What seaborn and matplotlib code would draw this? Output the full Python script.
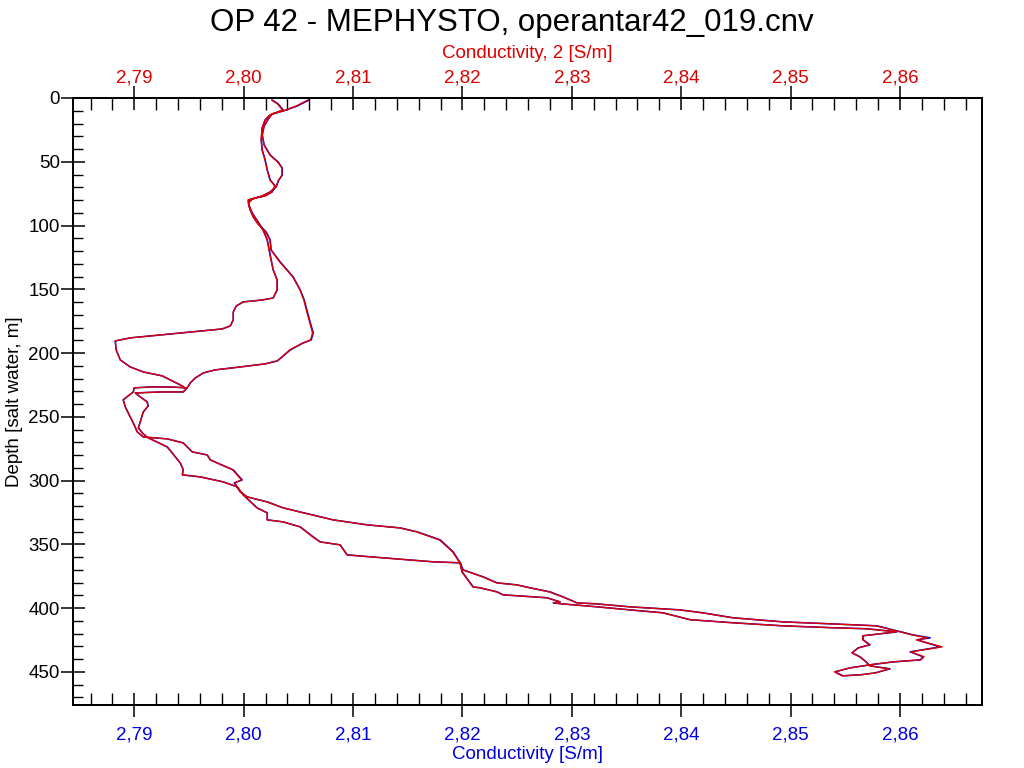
import matplotlib
matplotlib.use("Agg")
import matplotlib.pyplot as plt
from matplotlib.ticker import MultipleLocator, FuncFormatter
import numpy as np
import pandas as pd
import seaborn as sns

# CTD profile, down cast then up cast (depth in m, conductivity in S/m)
depth = [1.5, 6.3, 10.2, 12.5, 16.5, 22.0, 29.0, 36.8, 44.7, 50.2,
         54.9, 60.4, 65.1, 69.8, 73.7, 76.8, 79.2, 82.3, 87.8, 93.3,
         98.8, 105.0, 111.3, 119.2, 128.6, 140.3, 150.5, 158.4, 170.1, 184.2,
         189.7, 192.1, 197.6, 203.0, 206.2, 208.5, 210.9, 213.2, 215.6, 219.5,
         223.4, 227.3, 226.6, 226.6, 227.3, 230.5, 233.6, 236.7, 242.2, 250.1,
         254.8, 261.8, 265.8, 267.3, 270.5, 277.5, 279.9, 283.8, 291.6, 299.5,
         301.8, 308.9, 312.8, 316.7, 321.4, 324.6, 330.8, 334.7, 337.1, 340.2,
         346.5, 355.9, 364.5, 370.0, 375.5, 380.2, 381.8, 384.1, 387.3, 391.2,
         395.9, 396.7, 399.0, 401.4, 403.7, 407.6, 410.8, 412.4, 413.9, 417.8,
         421.0, 423.3, 424.9, 430.4, 434.3, 438.2, 440.6, 442.2, 444.5, 446.9,
         450.0, 453.1,
         452.3, 450.8, 447.6, 445.3, 442.2, 438.2, 435.1, 431.2, 428.8, 424.9,
         421.7, 420.2, 418.6, 416.2, 415.4, 413.9, 411.5, 409.1, 403.7, 401.4,
         399.0, 396.7, 395.9, 395.1, 391.9, 389.6, 387.3, 384.1, 383.4, 371.6,
         364.5, 363.7, 360.6, 358.3, 350.4, 348.1, 344.1, 336.3, 332.4, 330.8,
         325.3, 321.4, 311.2, 304.9, 301.0, 297.1, 295.5, 291.6, 286.1, 278.3,
         273.6, 266.5, 263.4, 258.7, 254.0, 246.2, 241.5, 238.3, 234.4, 231.3,
         230.5, 230.5, 228.1, 225.8, 221.8, 217.9, 214.8, 210.9, 205.4, 197.6,
         190.5, 188.1, 185.8, 182.7, 181.1, 178.7, 174.0, 167.8, 163.1, 159.9,
         158.4, 156.8, 150.5, 142.7, 134.8, 123.1, 111.3, 103.5, 97.2, 90.2,
         84.7, 80.0, 78.4, 76.8, 73.7, 69.0, 64.3, 56.4, 48.6, 40.8,
         32.9, 23.5, 17.2, 13.3, 9.4, 4.7, 1.6]

cond = [2.80600, 2.80490, 2.80362, 2.80261, 2.80225, 2.80188, 2.80170, 2.80188, 2.80243, 2.80316,
        2.80353, 2.80353, 2.80316, 2.80298, 2.80243, 2.80170, 2.80079, 2.80042, 2.80060, 2.80088,
        2.80133, 2.80206, 2.80243, 2.80252, 2.80335, 2.80453, 2.80517, 2.80554, 2.80590, 2.80636,
        2.80618, 2.80545, 2.80426, 2.80353, 2.80307, 2.80197, 2.79969, 2.79740, 2.79631, 2.79558,
        2.79512, 2.79484, 2.79329, 2.79146, 2.79000, 2.78991, 2.78945, 2.78899, 2.78918, 2.78963,
        2.78991, 2.79027, 2.79082, 2.79302, 2.79448, 2.79530, 2.79667, 2.79695, 2.79905, 2.79987,
        2.79914, 2.79969, 2.80033, 2.80216, 2.80362, 2.80517, 2.80819, 2.81130, 2.81431, 2.81587,
        2.81797, 2.81916, 2.81980, 2.82007, 2.82190, 2.82318, 2.82501, 2.82620, 2.82802, 2.82921,
        2.83049, 2.83232, 2.83533, 2.83990, 2.84201, 2.84475, 2.84932, 2.85389, 2.85791, 2.85974,
        2.86120, 2.86276, 2.86157, 2.86367, 2.86093, 2.86212, 2.86184, 2.85937, 2.85727, 2.85544,
        2.85407, 2.85480,
        2.85636, 2.85773, 2.85910, 2.85727, 2.85691, 2.85636, 2.85562, 2.85617, 2.85727, 2.85663,
        2.85663, 2.85818, 2.85974, 2.85700, 2.85389, 2.84932, 2.84475, 2.84082, 2.83835, 2.83533,
        2.83232, 2.82912, 2.82830, 2.82894, 2.82775, 2.82373, 2.82318, 2.82162, 2.82099, 2.81998,
        2.81980, 2.81733, 2.81276, 2.80947, 2.80883, 2.80700, 2.80636, 2.80517, 2.80362, 2.80216,
        2.80216, 2.80124, 2.79996, 2.79941, 2.79813, 2.79603, 2.79439, 2.79448, 2.79420, 2.79347,
        2.79302, 2.79128, 2.79082, 2.79037, 2.79055, 2.79082, 2.79128, 2.79119, 2.79055, 2.79009,
        2.79238, 2.79448, 2.79475, 2.79439, 2.79347, 2.79256, 2.79082, 2.78963, 2.78872, 2.78835,
        2.78826, 2.78963, 2.79238, 2.79603, 2.79804, 2.79878, 2.79905, 2.79905, 2.79932, 2.79996,
        2.80170, 2.80270, 2.80307, 2.80307, 2.80270, 2.80243, 2.80216, 2.80179, 2.80133, 2.80079,
        2.80051, 2.80042, 2.80106, 2.80197, 2.80261, 2.80289, 2.80243, 2.80216, 2.80197, 2.80170,
        2.80161, 2.80170, 2.80197, 2.80243, 2.80362, 2.80316, 2.80261]

cond2 = [2.80590, 2.80480, 2.80360, 2.80255, 2.80225, 2.80185, 2.80170, 2.80185, 2.80240, 2.80310,
         2.80350, 2.80350, 2.80316, 2.80295, 2.80240, 2.80170, 2.80079, 2.80045, 2.80060, 2.80088,
         2.80130, 2.80200, 2.80240, 2.80250, 2.80330, 2.80450, 2.80515, 2.80550, 2.80585, 2.80630,
         2.80612, 2.80540, 2.80420, 2.80350, 2.80305, 2.80195, 2.79969, 2.79740, 2.79631, 2.79558,
         2.79512, 2.79484, 2.79329, 2.79146, 2.79000, 2.78991, 2.78945, 2.78899, 2.78918, 2.78963,
         2.78991, 2.79027, 2.79082, 2.79302, 2.79448, 2.79530, 2.79667, 2.79695, 2.79900, 2.79980,
         2.79920, 2.79969, 2.80033, 2.80210, 2.80360, 2.80510, 2.80815, 2.81125, 2.81425, 2.81580,
         2.81790, 2.81910, 2.81975, 2.82000, 2.82185, 2.82310, 2.82495, 2.82615, 2.82795, 2.82915,
         2.83045, 2.83225, 2.83525, 2.83985, 2.84190, 2.84470, 2.84925, 2.85380, 2.85780, 2.85960,
         2.86110, 2.86250, 2.86150, 2.86385, 2.86100, 2.86220, 2.86190, 2.85930, 2.85720, 2.85540,
         2.85400, 2.85470,
         2.85640, 2.85780, 2.85900, 2.85720, 2.85690, 2.85630, 2.85560, 2.85620, 2.85720, 2.85660,
         2.85660, 2.85810, 2.85960, 2.85690, 2.85380, 2.84925, 2.84470, 2.84080, 2.83830, 2.83530,
         2.83230, 2.82910, 2.82840, 2.82890, 2.82770, 2.82370, 2.82315, 2.82160, 2.82095, 2.81995,
         2.81978, 2.81730, 2.81270, 2.80945, 2.80880, 2.80700, 2.80630, 2.80515, 2.80360, 2.80215,
         2.80215, 2.80120, 2.79995, 2.79940, 2.79810, 2.79600, 2.79440, 2.79448, 2.79420, 2.79345,
         2.79300, 2.79128, 2.79082, 2.79037, 2.79055, 2.79082, 2.79125, 2.79115, 2.79055, 2.79009,
         2.79238, 2.79448, 2.79475, 2.79439, 2.79347, 2.79256, 2.79082, 2.78963, 2.78872, 2.78835,
         2.78826, 2.78963, 2.79238, 2.79603, 2.79804, 2.79878, 2.79905, 2.79905, 2.79932, 2.79996,
         2.80170, 2.80270, 2.80305, 2.80305, 2.80270, 2.80240, 2.80215, 2.80175, 2.80130, 2.80075,
         2.80050, 2.80040, 2.80100, 2.80195, 2.80255, 2.80285, 2.80240, 2.80215, 2.80195, 2.80168,
         2.80160, 2.80168, 2.80195, 2.80240, 2.80355, 2.80310, 2.80255]

title = "OP 42 - MEPHYSTO, operantar42_019.cnv"
blue = "#0000DD"
red = "#DD0000"

df = pd.DataFrame({"depth": depth, "cond": cond, "cond2": cond2})

sns.set_style("white")
plt.rcParams["font.family"] = ["Liberation Sans", "DejaVu Sans"]
plt.rcParams["text.color"] = "black"
plt.rcParams["axes.labelcolor"] = "black"
plt.rcParams["xtick.color"] = "black"
plt.rcParams["ytick.color"] = "black"

fig = plt.figure(figsize=(10.24, 7.68), dpi=100)
ax = fig.add_axes([0.0713, 0.082, 0.8877, 0.7904])

sns.lineplot(data=df, x="cond", y="depth", sort=False, estimator=None,
             color=blue, linewidth=1.1, ax=ax)
ax2 = ax.twiny()
sns.lineplot(data=df, x="cond2", y="depth", sort=False, estimator=None,
             color=red, linewidth=1.0, ax=ax2)

xlim = (2.7844, 2.8675)
for a in (ax, ax2):
    a.set_xlim(*xlim)
    a.xaxis.set_major_locator(MultipleLocator(0.01))
    a.xaxis.set_minor_locator(MultipleLocator(0.002))
    a.xaxis.set_major_formatter(FuncFormatter(lambda v, p: f"{v:.2f}".replace(".", ",")))
    for s in a.spines.values():
        s.set_linewidth(1.3)
        s.set_color("black")
ax.set_ylim(476, 0)
ax.yaxis.set_major_locator(MultipleLocator(50))
ax.yaxis.set_minor_locator(MultipleLocator(10))

ax.tick_params(axis="x", which="major", direction="inout", length=17, width=1.1,
               labelsize=13.5, labelcolor=blue, pad=7, bottom=True, top=False)
ax.tick_params(axis="x", which="minor", direction="in", length=8.5, width=1.0,
               bottom=True, top=False)
ax.tick_params(axis="y", which="major", direction="inout", length=17, width=1.1,
               labelsize=13.5, labelcolor="black", pad=1, left=True, right=False)
ax.tick_params(axis="y", which="minor", direction="in", length=7.5, width=1.0,
               left=True, right=False)
ax2.tick_params(axis="x", which="major", direction="inout", length=17, width=1.1,
                labelsize=13.5, labelcolor=red, pad=0, top=True, bottom=False)
ax2.tick_params(axis="x", which="minor", direction="in", length=8.5, width=1.0,
                top=True, bottom=False)

ax.set_xlabel("Conductivity [S/m]", color=blue, fontsize=13.5, labelpad=2)
ax2.set_xlabel("Conductivity, 2 [S/m]", color=red, fontsize=13.5, labelpad=8)
ax.set_ylabel("Depth [salt water, m]", fontsize=13.5, labelpad=4)
ax2.set_ylabel("")
fig.suptitle(title, fontsize=22.5, y=0.99, color="black")

fig.savefig("out.png", dpi=100)
